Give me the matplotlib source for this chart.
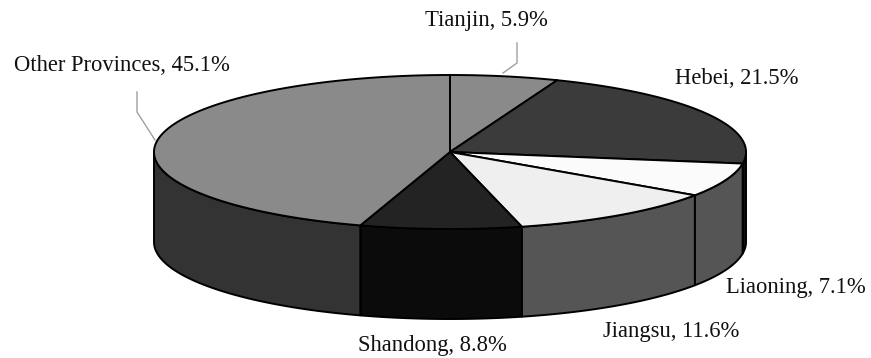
import numpy as np
import matplotlib
matplotlib.use("Agg")
import matplotlib.pyplot as plt
from matplotlib.patches import Polygon

# ---- data ----
provinces = ["Tianjin", "Hebei", "Liaoning", "Jiangsu", "Shandong", "Other Provinces"]
shares = [5.9, 21.5, 7.1, 11.6, 8.8, 45.1]

# ---- styles ----
top_colors = ["#8a8a8a", "#3b3b3b", "#fbfbfb", "#efefef", "#232323", "#8a8a8a"]
side_colors = ["#6a6a6a", "#111111", "#555555", "#555555", "#0b0b0b", "#333333"]

# label positions (pixel coords, x centre / baseline)
label_pos = [(486, 26), (737, 84), (796, 293), (671, 337), (432, 351), (122, 71)]
leaders = {
    0: [(517, 43), (517, 63), (503, 73)],
    5: [(137, 92), (137, 112), (155, 140)],
}

fig = plt.figure(figsize=(8.71, 3.58), dpi=100)
ax = fig.add_axes([0, 0, 1, 1])
ax.set_xlim(0, 871)
ax.set_ylim(358, 0)
ax.axis("off")

cx, cy, rx, ry, depth = 450, 152, 296, 77, 90


def arc(t_from, t_to, dy=0, n=None):
    if n is None:
        n = max(2, int(abs(t_to - t_from) * 2) + 2)
    t = np.radians(np.linspace(t_from, t_to, n))
    return np.column_stack([cx + rx * np.cos(t), cy - ry * np.sin(t) + dy])


cum = np.concatenate([[0], np.cumsum(shares)]) / np.sum(shares)
lw = 1.4

# side walls (front half: angles between -180 and 0)
for i in range(len(shares)):
    t1 = 90 - cum[i] * 360
    t0 = 90 - cum[i + 1] * 360
    a = max(t0, -180)
    b = min(t1, 0)
    if b > a:
        top = arc(a, b)
        bot = arc(b, a, dy=depth)
        poly = Polygon(np.vstack([top, bot]), closed=True, facecolor=side_colors[i],
                       edgecolor="black", linewidth=lw, joinstyle="round", zorder=1)
        ax.add_patch(poly)

# top wedges
for i in range(len(shares)):
    t1 = 90 - cum[i] * 360
    t0 = 90 - cum[i + 1] * 360
    pts = np.vstack([[cx, cy], arc(t1, t0)])
    poly = Polygon(pts, closed=True, facecolor=top_colors[i], edgecolor="black",
                   linewidth=lw, joinstyle="round", zorder=2)
    ax.add_patch(poly)

# labels
for i, (name, v) in enumerate(zip(provinces, shares)):
    x, y = label_pos[i]
    ax.text(x, y, f"{name}, {v}%", ha="center", va="baseline",
            fontsize=16.3, family="Liberation Serif", color="#111111", zorder=3)
    if i in leaders:
        xs, ys = zip(*leaders[i])
        ax.plot(xs, ys, color="#a0a0a0", lw=1.0, zorder=3)

fig.savefig("out.png", dpi=100)
